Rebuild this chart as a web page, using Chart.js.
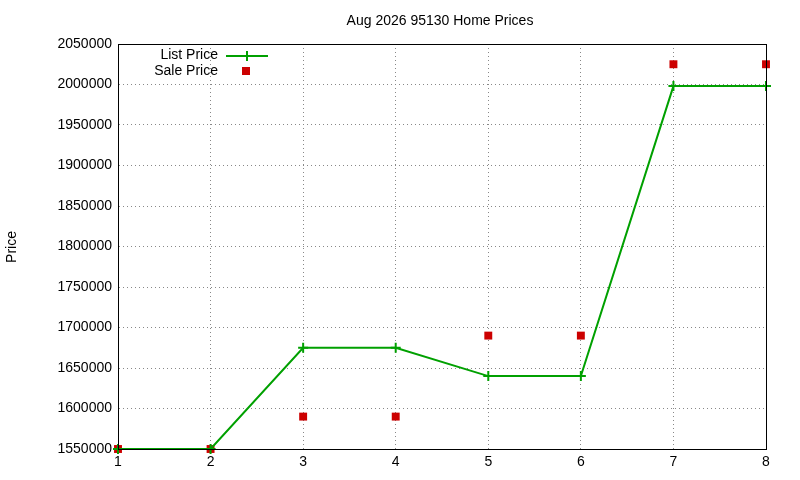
<!DOCTYPE html>
<html><head><meta charset="utf-8">
<script src="https://cdn.jsdelivr.net/npm/chart.js@4"></script>
<style>body{margin:0;background:#fff}</style>
</head><body>
<canvas id="c" width="800" height="480"></canvas>
<script>
const categories = [1, 2, 3, 4, 5, 6, 7, 8];
const listPrice = [1550000, 1550000, 1675000, 1675000, 1640000, 1640000, 1998000, 1998000];
const salePrice = [1550000, 1550000, 1590000, 1590000, 1690000, 1690000, 2025000, 2025000];
const yTicks = [1550000,1600000,1650000,1700000,1750000,1800000,1850000,1900000,1950000,2000000,2050000];
const FONT = 'Liberation Sans, Arial, sans-serif';
const GREEN = '#00a000', RED = '#cc0000';

const deco = {
  id: 'deco',
  afterDraw(ch) {
    const c = ch.ctx, a = ch.chartArea;
    c.save();
    c.strokeStyle = '#000'; c.lineWidth = 1;
    c.strokeRect(Math.round(a.left)+0.5, Math.round(a.top)+0.5, Math.round(a.right-a.left), Math.round(a.bottom-a.top));
    c.fillStyle = '#000';
    c.font = '14px ' + FONT;
    c.textAlign = 'center'; c.textBaseline = 'middle';
    c.fillText('Aug 2026 95130 Home Prices', 440, 21);
    c.save(); c.translate(12, 247); c.rotate(-Math.PI/2); c.fillText('Price', 0, 0); c.restore();
    c.textAlign = 'right';
    c.fillText('List Price', 218, 55);
    c.fillText('Sale Price', 218, 71);
    c.strokeStyle = GREEN; c.lineWidth = 2;
    c.beginPath(); c.moveTo(226, 56); c.lineTo(268, 56); c.stroke();
    c.beginPath(); c.moveTo(247, 51); c.lineTo(247, 61); c.moveTo(242,56); c.lineTo(252,56); c.stroke();
    c.fillStyle = RED; c.fillRect(242, 67, 8, 8);
    c.restore();
  }
};

new Chart(document.getElementById('c'), {
  type: 'line',
  data: { datasets: [
    { label: 'List Price', data: categories.map((x,i)=>({x, y: listPrice[i]})), borderColor: GREEN, backgroundColor: GREEN,
      borderWidth: 2, pointStyle: 'cross', pointRadius: 5, pointBorderWidth: 2, tension: 0, clip: false },
    { label: 'Sale Price', data: categories.map((x,i)=>({x, y: salePrice[i]})), showLine: false, borderColor: RED, backgroundColor: RED,
      pointStyle: 'rect', pointRadius: 5.6, pointBorderWidth: 0, clip: false }
  ]},
  options: {
    responsive: false, animation: false,
    layout: { padding: { top: 44, right: 34, left: 0, bottom: 0 } },
    plugins: { legend: { display: false }, tooltip: { enabled: false } },
    scales: {
      x: { type: 'linear', min: 1, max: 8,
        afterFit(s){ s.height = 31; },
        ticks: { stepSize: 1, color: '#000', font: { family: FONT, size: 14 }, padding: 5 },
        grid: { color: '#888', tickLength: 0 },
        border: { color: '#000', dash: [1,3] } },
      y: { min: 1550000, max: 2050000,
        afterFit(s){ s.width = 118; },
        afterBuildTicks(s){ s.ticks = yTicks.map(v=>({value:v})); },
        ticks: { color: '#000', font: { family: FONT, size: 14 }, padding: 6, callback: v => String(v) },
        grid: { color: '#888', tickLength: 0 },
        border: { color: '#000', dash: [1,3] } }
    }
  },
  plugins: [deco]
});
</script>
</body></html>
